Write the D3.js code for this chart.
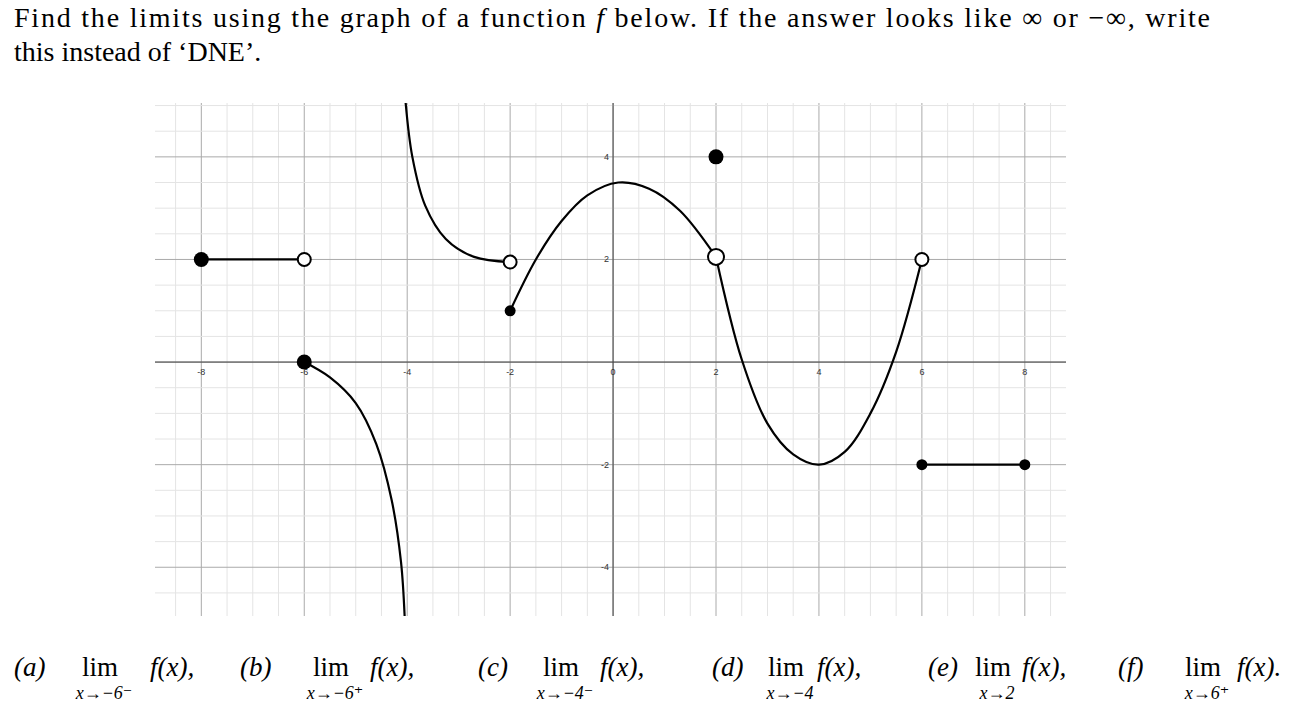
<!DOCTYPE html>
<html><head><meta charset="utf-8">
<script src="https://cdn.jsdelivr.net/npm/d3@7"></script>
<style>
body{margin:0;background:#fff}
text{font-family:"Liberation Serif","DejaVu Serif",serif}
.tick-lab{font-family:"Liberation Sans",Arial,sans-serif;font-size:9px;fill:#333}
</style></head><body>
<svg id="c" width="1310" height="724"></svg>
<script>
// data
const xTicks = [-8, -6, -4, -2, 0, 2, 4, 6, 8];
const yTicks = [-4, -2, 2, 4];
const pieceA = [[-8, 2], [-6, 2]];
const pieceB = [[-6, 0], [-5.5, -0.3], [-5, -0.8], [-4.6, -1.6], [-4.3, -2.7], [-4.12, -3.9], [-4.05, -4.95]];
const pieceC = [[-4.03, 5.05], [-3.9, 4.0], [-3.65, 3.05], [-3.25, 2.4], [-2.7, 2.05], [-2, 1.95]];
const pieceD = [[-2, 1], [-1.5, 2.0], [-1, 2.75], [-0.5, 3.25], [0.1, 3.5], [0.7, 3.38], [1.3, 2.95], [2, 2.05]];
const pieceE = [[2, 2.05], [2.5, 0.05], [3, -1.2], [3.5, -1.8], [4, -2], [4.5, -1.75], [5, -1.0], [5.5, 0.2], [6, 2]];
const pieceF = [[6, -2], [8, -2]];
const filledPts = [[-8, 2], [-6, 0], [-2, 1], [2, 4], [6, -2], [8, -2]];
const openPts = [[-6, 2], [-2, 1.95], [2, 2.05], [6, 2]];
const limLabels = ["(a)", "(b)", "(c)", "(d)", "(e)", "(f)"];
const limSubs = ["x→−6⁻", "x→−6⁺", "x→−4⁻", "x→−4", "x→2", "x→6⁺"];

const svg = d3.select("#c");
const x = d3.scaleLinear().domain([-8.9, 8.8]).range([155, 1066]);
const y = d3.scaleLinear().domain([5.05, -4.95]).range([103, 616]);

// grid
const minorX = d3.range(-8.5, 8.6, 0.5), minorY = d3.range(-4.5, 5.01, 0.5);
svg.append("g").selectAll("line").data(minorX).join("line")
  .attr("x1", d => x(d)).attr("x2", d => x(d)).attr("y1", y.range()[0]).attr("y2", y.range()[1])
  .attr("stroke", d => d % 2 === 0 ? "#aaa" : "#e4e4e4").attr("stroke-width", 1);
svg.append("g").selectAll("line").data(minorY).join("line")
  .attr("y1", d => y(d)).attr("y2", d => y(d)).attr("x1", x.range()[0]).attr("x2", x.range()[1])
  .attr("stroke", d => d % 2 === 0 ? "#aaa" : "#e4e4e4").attr("stroke-width", 1);
// axes
svg.append("line").attr("x1", x.range()[0]).attr("x2", x.range()[1]).attr("y1", y(0)).attr("y2", y(0)).attr("stroke", "#444");
svg.append("line").attr("y1", y.range()[0]).attr("y2", y.range()[1]).attr("x1", x(0)).attr("x2", x(0)).attr("stroke", "#444");
svg.append("g").selectAll("text").data(xTicks).join("text").attr("class", "tick-lab")
  .attr("x", d => x(d)).attr("y", y(0) + 13).attr("text-anchor", "middle").text(d => d);
svg.append("g").selectAll("text").data(yTicks).join("text").attr("class", "tick-lab")
  .attr("x", x(0) - 4).attr("y", d => y(d) + 3).attr("text-anchor", "end").text(d => d);

// curves
const line = d3.line().x(d => x(d[0])).y(d => y(d[1])).curve(d3.curveCatmullRom);
[pieceA, pieceB, pieceC, pieceD, pieceE, pieceF].forEach(p =>
  svg.append("path").attr("d", line(p)).attr("fill", "none").attr("stroke", "#000").attr("stroke-width", 2.2));

svg.append("g").selectAll("circle").data(filledPts).join("circle")
  .attr("cx", d => x(d[0])).attr("cy", d => y(d[1])).attr("r", d => (d[0] === 6 || d[0] === 8 || (d[0] === -2)) ? 5.5 : 7.5).attr("fill", "#000");
svg.append("g").selectAll("circle").data(openPts).join("circle")
  .attr("cx", d => x(d[0])).attr("cy", d => y(d[1])).attr("r", d => d[0] === 2 ? 8 : 6.5)
  .attr("fill", "#fff").attr("stroke", "#000").attr("stroke-width", 2);

// text
svg.append("text").attr("x", 14).attr("y", 27).attr("font-size", 28)
  .attr("textLength", 1196).attr("lengthAdjust", "spacing")
  .html('Find the limits using the graph of a function <tspan font-style="italic">f</tspan> below.  If the answer looks like ∞ or −∞, write');
svg.append("text").attr("x", 14).attr("y", 61).attr("font-size", 28).text("this instead of ‘DNE’.");

const labX = [14, 240, 478, 712, 928, 1118];
const limX = [82, 313, 543, 768, 975, 1185];
const fX = [150, 370, 600, 817, 1022, 1237];
limLabels.forEach((lab, i) => {
  svg.append("text").attr("x", labX[i]).attr("y", 676).attr("font-size", 27).attr("font-style", "italic").text(lab);
  svg.append("text").attr("x", limX[i]).attr("y", 676).attr("font-size", 27).text("lim");
  svg.append("text").attr("x", limX[i] + 22).attr("y", 699).attr("font-size", 18).attr("font-style", "italic")
    .attr("text-anchor", "middle").text(limSubs[i]);
  svg.append("text").attr("x", fX[i]).attr("y", 676).attr("font-size", 27).attr("font-style", "italic")
    .text("f(x)" + (i === 5 ? "." : ","));
});
</script></body></html>
